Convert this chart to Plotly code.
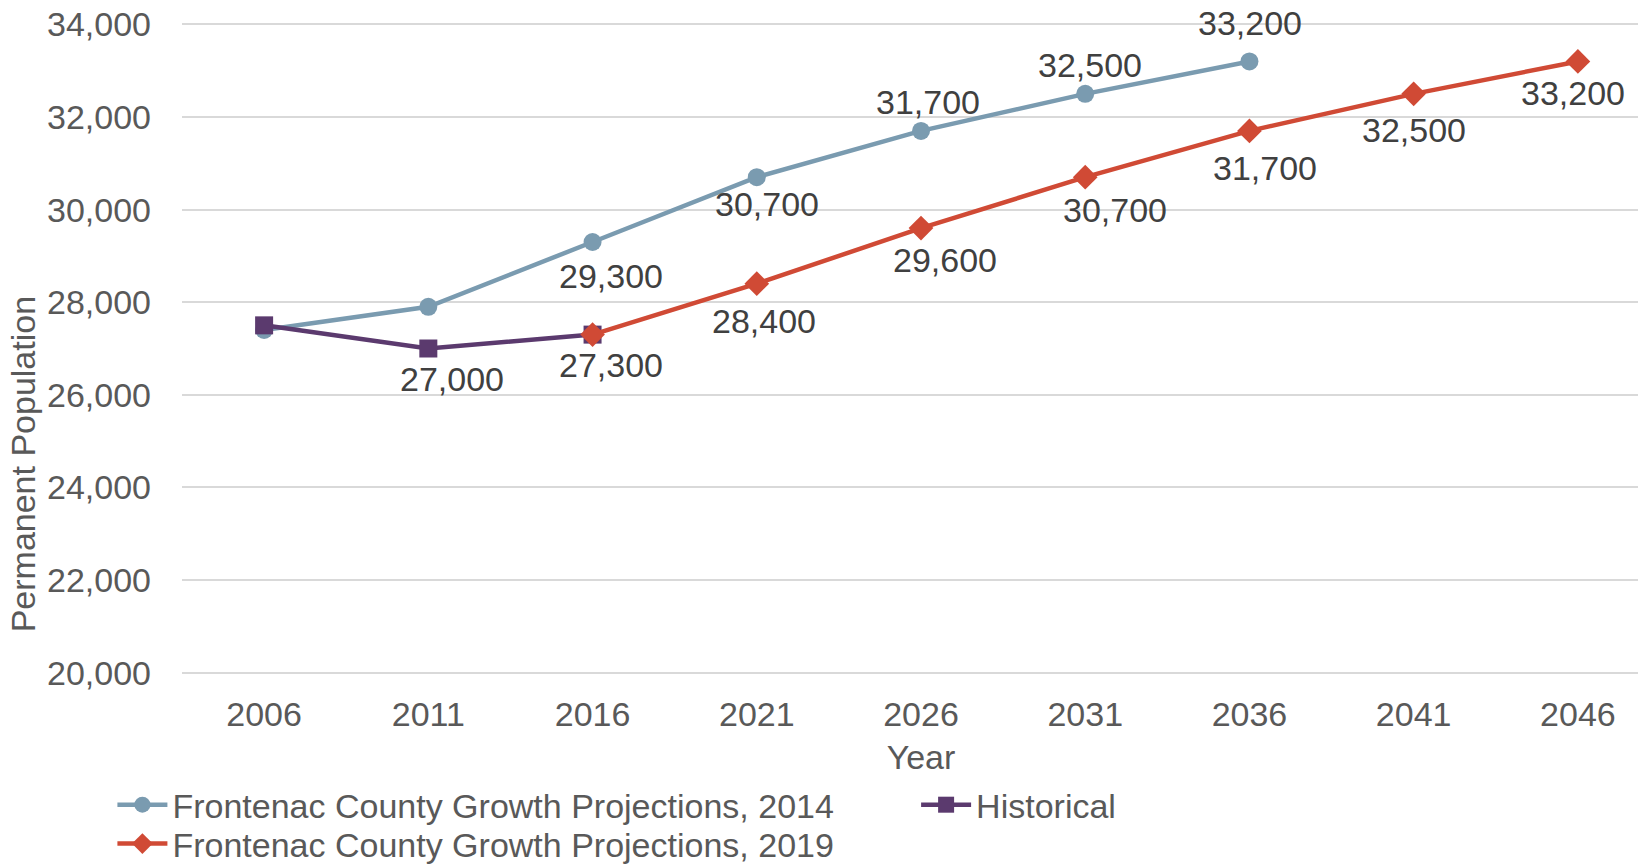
import plotly.graph_objects as go

years = [2006, 2011, 2016, 2021, 2026, 2031, 2036, 2041, 2046]
proj2014 = [27400, 27900, 29300, 30700, 31700, 32500, 33200, None, None]
historical = [27500, 27000, 27300, None, None, None, None, None, None]
proj2019 = [None, None, 27300, 28400, 29600, 30700, 31700, 32500, 33200]

names = ["Frontenac County Growth Projections, 2014", "Historical",
         "Frontenac County Growth Projections, 2019"]

# which points carry a data label
show2014 = [False, False, True, True, True, True, True, False, False]
showHist = [False, True, True, False, False, False, False, False, False]
show2019 = [False, False, False, True, True, True, True, True, True]

# label pixel offsets (dx, dy) relative to the point
off2014 = [(0, 0), (0, 0), (18, 34), (10, 27), (7, -29), (5, -29), (1, -38), (0, 0), (0, 0)]
offHist = [(0, 0), (24, 30), (18, 30), (0, 0), (0, 0), (0, 0), (0, 0), (0, 0), (0, 0)]
off2019 = [(0, 0), (0, 0), (0, 0), (7, 37), (24, 32), (30, 33), (16, 37), (0, 36), (-5, 32)]

c2014 = "#7A9BB0"
cHist = "#5B3A6E"
c2019 = "#D04A35"
FONT = "Liberation Sans, Arial, sans-serif"

fig = go.Figure()
fig.add_trace(go.Scatter(x=years, y=proj2014, name=names[0], mode="lines+markers",
                         line=dict(color=c2014, width=4.5),
                         marker=dict(symbol="circle", size=18, color=c2014),
                         connectgaps=False, cliponaxis=False, legend="legend"))
fig.add_trace(go.Scatter(x=years, y=historical, name=names[1], mode="lines+markers",
                         line=dict(color=cHist, width=4.5),
                         marker=dict(symbol="square", size=18, color=cHist),
                         cliponaxis=False, legend="legend2"))
fig.add_trace(go.Scatter(x=years, y=proj2019, name=names[2], mode="lines+markers",
                         line=dict(color=c2019, width=4.5),
                         marker=dict(symbol="diamond", size=19, color=c2019),
                         cliponaxis=False, legend="legend3"))

annotations = []
for vals, shows, offs in [(proj2014, show2014, off2014),
                          (historical, showHist, offHist),
                          (proj2019, show2019, off2019)]:
    for yr, v, s, (dx, dy) in zip(years, vals, shows, offs):
        if v is None or not s:
            continue
        annotations.append(dict(x=yr, y=v, xref="x", yref="y", text=f"{v:,}",
                                showarrow=False, xshift=dx, yshift=-dy,
                                xanchor="center", yanchor="middle",
                                font=dict(family=FONT, size=34, color="#404040")))

annotations.append(dict(x=-0.1076, y=0.322, xref="paper", yref="paper",
                        xanchor="center", yanchor="middle",
                        text="Permanent Population", textangle=-90, showarrow=False,
                        font=dict(family=FONT, size=34, color="#595959")))

legend_common = dict(orientation="h", xref="container", yref="container",
                     xanchor="left", yanchor="top",
                     font=dict(family=FONT, size=34, color="#595959"),
                     itemwidth=50, bgcolor="rgba(0,0,0,0)")

fig.update_layout(
    width=1652, height=864,
    margin=dict(l=174, r=0, t=15, b=198, autoexpand=False),
    paper_bgcolor="white", plot_bgcolor="white",
    font=dict(family=FONT, size=34, color="#595959"),
    showlegend=True,
    legend=dict(x=0.0632, y=0.111, **legend_common),
    legend2=dict(x=0.5497, y=0.111, **legend_common),
    legend3=dict(x=0.0632, y=0.066, **legend_common),
    annotations=annotations,
)
fig.update_xaxes(range=[2003.5, 2048.5], tickvals=years, ticktext=[str(y) for y in years],
                 showgrid=False, showline=False, zeroline=False, ticks="",
                 tickfont=dict(family=FONT, size=34, color="#595959"),
                 ticklabelstandoff=17, ticklabeloverflow="allow",
                 title=dict(text="Year", font=dict(family=FONT, size=34, color="#595959"),
                            standoff=14))
fig.update_yaxes(range=[19970, 34030], tickvals=list(range(20000, 34001, 2000)),
                 tickformat=",d", ticklabeloverflow="allow",
                 showgrid=True, gridcolor="#D9D9D9", gridwidth=1.5,
                 zeroline=False, showline=False, ticks="",
                 tickfont=dict(family=FONT, size=34, color="#595959"),
                 ticklabelstandoff=30)

fig.write_html("out.html")
